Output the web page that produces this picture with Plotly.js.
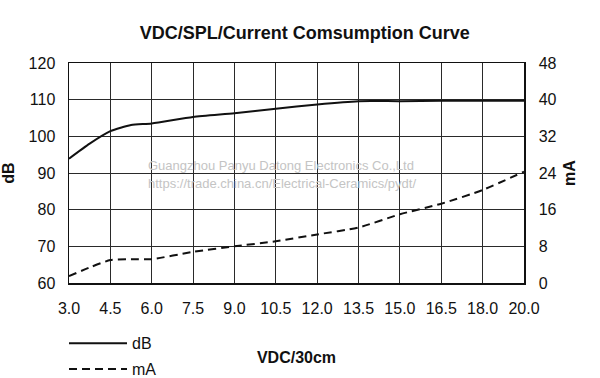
<!DOCTYPE html>
<html>
<head>
<meta charset="utf-8">
<script src="https://cdn.plot.ly/plotly-3.0.1.min.js"></script>
<style>html,body{margin:0;padding:0;background:#fff}#chart{width:600px;height:378px}</style>
</head>
<body>
<div id="chart"></div>
<script>
// Tick labels of the VDC axis (evenly spaced categories)
var vdcLabels = ["3.0","4.5","6.0","7.5","9.0","10.5","12.0","13.5","15.0","16.5","18.0","20.0"];
// Sample positions along the VDC axis, in category steps (0 = "3.0", 11 = "20.0")
var samplePos = [0, 0.5, 1, 1.5, 2, 3, 4, 5, 6, 7, 8, 9, 10, 11];
// SPL in dB at 30cm
var dbValues = [93.9, 98.0, 101.4, 103.1, 103.5, 105.3, 106.3, 107.5, 108.7, 109.6, 109.6, 109.7, 109.7, 109.7];
// Current consumption in mA
var maValues = [1.5, 3.4, 5.0, 5.2, 5.2, 6.8, 8.0, 9.1, 10.6, 12.1, 15.0, 17.3, 20.3, 24.3];

var tickIdx = vdcLabels.map(function(_, i){ return i; });
var FONT = "Liberation Sans, Arial, sans-serif";

var traces = [
  {x: samplePos, y: dbValues, name: "dB", type: "scatter", mode: "lines",
   line: {color: "#111", width: 2, shape: "spline", smoothing: 0.6},
   yaxis: "y", legendgroup: "a"},
  {x: samplePos, y: maValues, name: "mA", type: "scatter", mode: "lines",
   line: {color: "#111", width: 2, dash: "8px,5px", shape: "spline", smoothing: 0.6},
   yaxis: "y2", legendgroup: "b"}
];

var layout = {
  width: 600, height: 378,
  margin: {l: 69, r: 76, t: 63, b: 95, pad: 0, autoexpand: false},
  paper_bgcolor: "#fff", plot_bgcolor: "#fff",
  font: {family: FONT, size: 16, color: "#111"},
  title: {text: "<b>VDC/SPL/Current Comsumption Curve</b>", font: {family: FONT, size: 18, color: "#111"},
          xref: "container", yref: "container", x: 0.508, y: 0.913, xanchor: "center", yanchor: "middle"},
  xaxis: {range: [0, 11], tickmode: "array", tickvals: tickIdx, ticktext: vdcLabels,
          showgrid: true, gridcolor: "#2a2a2a", gridwidth: 1, zeroline: false,
          showline: true, linecolor: "#111", linewidth: 1.5, mirror: true, automargin: false,
          ticks: "", ticklabelstandoff: 10, tickfont: {size: 16},
          title: {text: "<b>VDC/30cm</b>", font: {size: 16}, standoff: 36},
          fixedrange: true},
  yaxis: {range: [60, 120], dtick: 10, tick0: 60, showgrid: true, gridcolor: "#2a2a2a", gridwidth: 1,
          zeroline: false, showline: true, linecolor: "#111", linewidth: 1.5, automargin: false,
          ticks: "", ticklabelstandoff: 9, tickfont: {size: 16},
          title: {text: "<b>dB</b>", font: {size: 16}, standoff: 12}},
  yaxis2: {range: [0, 48], dtick: 8, tick0: 0, overlaying: "y", side: "right",
           showgrid: false, zeroline: false, showline: true, linecolor: "#111", linewidth: 1.5, automargin: false,
           ticks: "", ticklabelstandoff: 10, tickfont: {size: 16},
           title: {text: "<b>mA</b>", font: {size: 16}, standoff: 8}},
  showlegend: true,
  legend: {x: -0.011, y: -0.197, xanchor: "left", yanchor: "top", orientation: "v",
           traceorder: "grouped", tracegroupgap: 2, itemwidth: 58,
           font: {size: 16}, bgcolor: "rgba(0,0,0,0)"},
  annotations: [
    {text: "Guangzhou Panyu Datong Electronics Co.,Ltd", xref: "paper", yref: "paper",
     x: 0.169, y: 0.536, xanchor: "left", yanchor: "middle", showarrow: false,
     font: {size: 13, color: "#c4c4c4"}},
    {text: "https://trade.china.cn/Electrical-Ceramics/pydt/", xref: "paper", yref: "paper",
     x: 0.169, y: 0.452, xanchor: "left", yanchor: "middle", showarrow: false,
     font: {size: 13, color: "#c4c4c4"}}
  ]
};

Plotly.newPlot("chart", traces, layout, {staticPlot: true, displayModeBar: false});
</script>
</body>
</html>
